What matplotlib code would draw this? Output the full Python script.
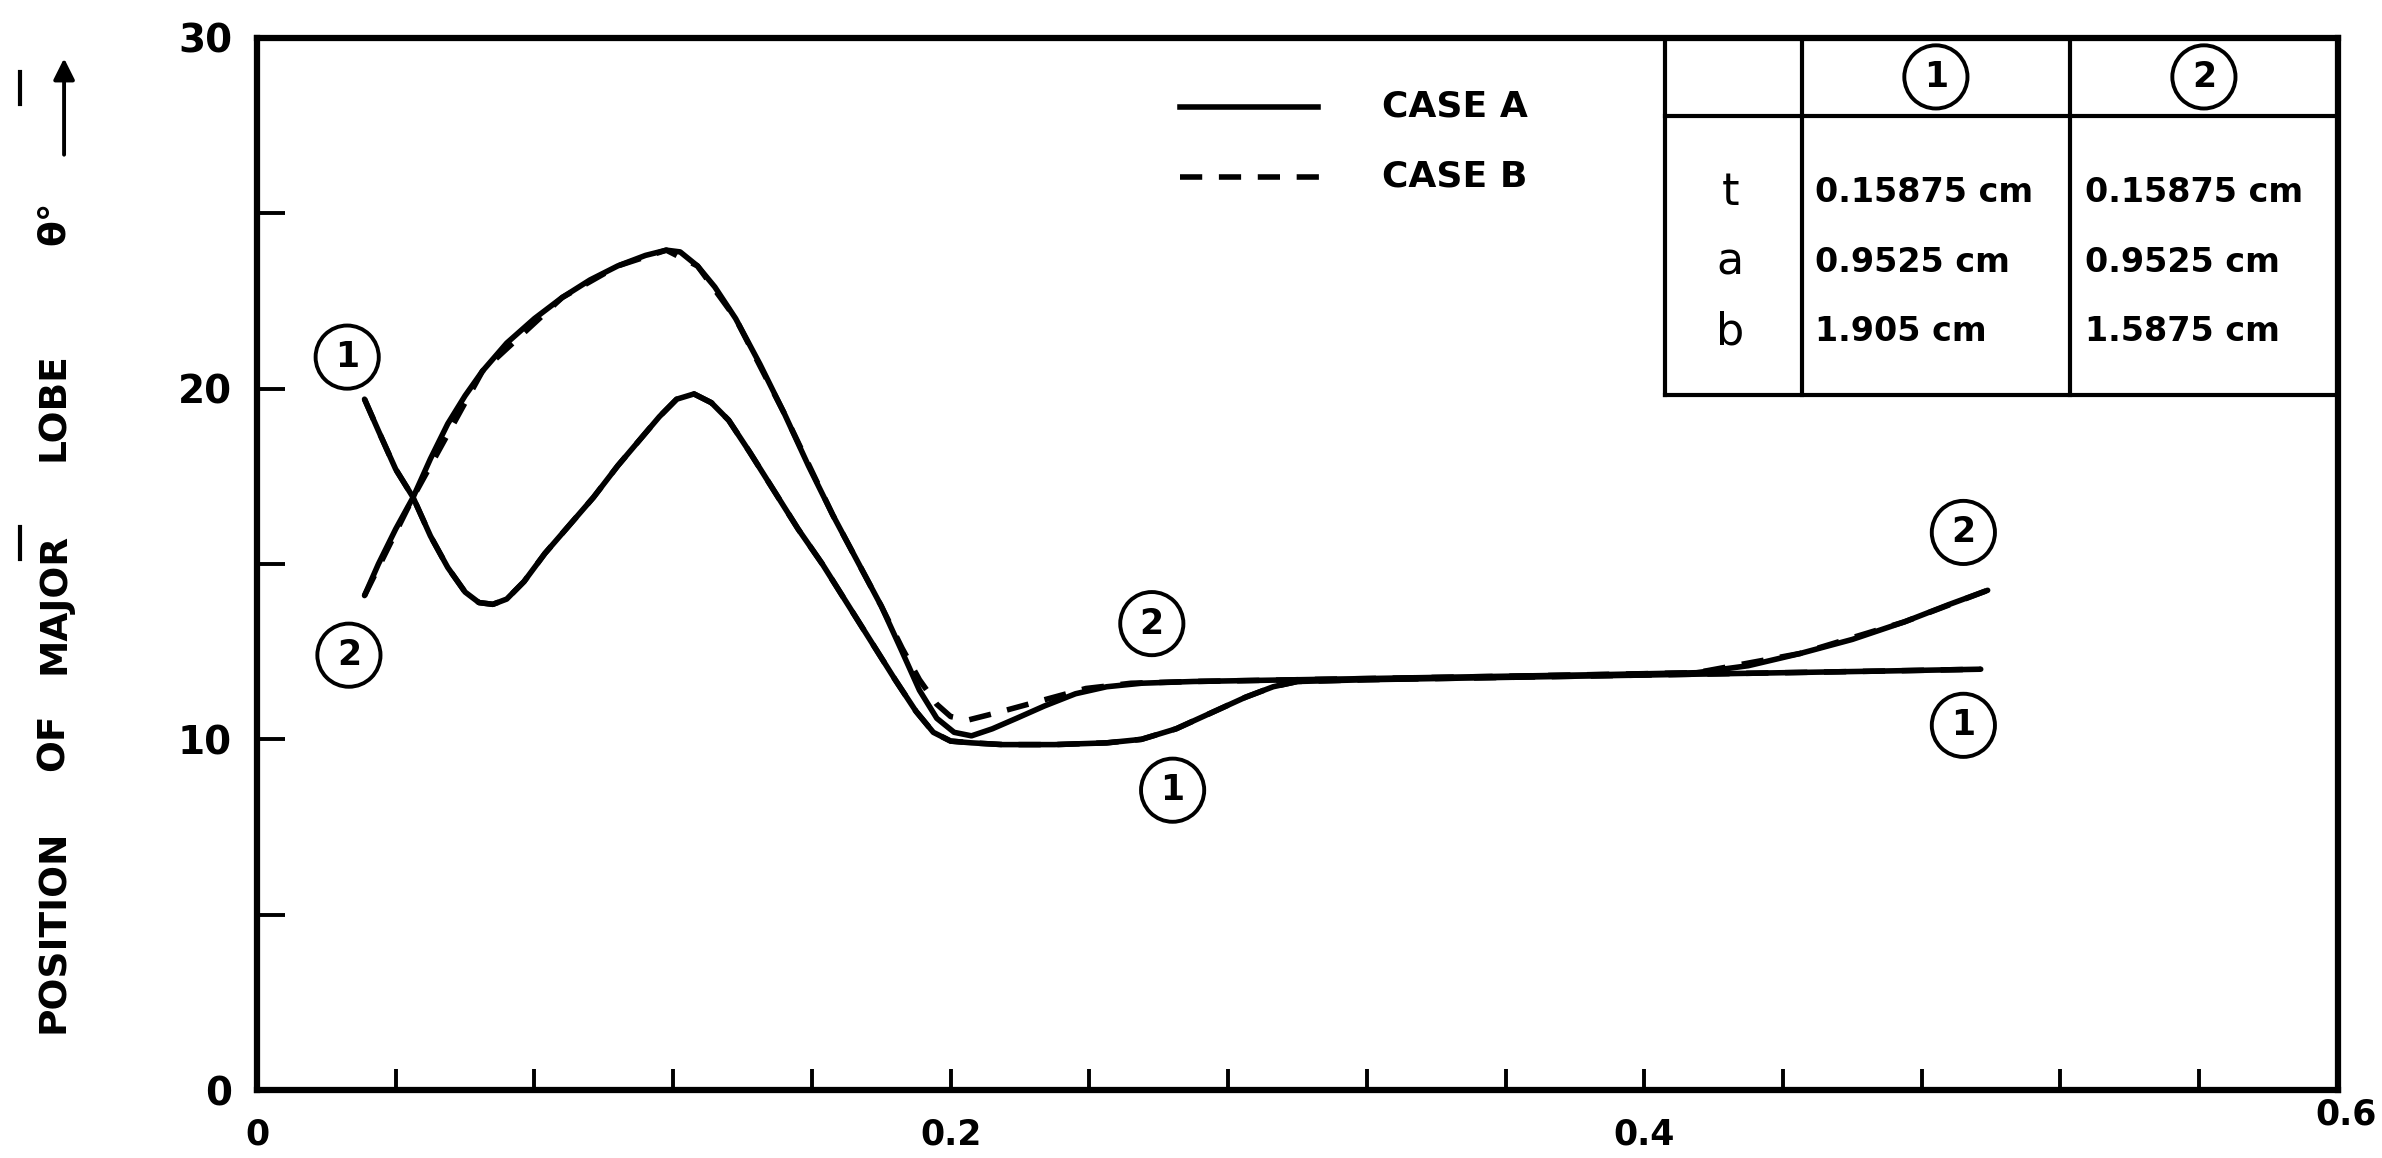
import numpy as np
import matplotlib.pyplot as plt
from matplotlib.lines import Line2D
from matplotlib.patches import FancyArrowPatch

# strip 1, case A
x_1a = [0.031, 0.035, 0.040, 0.045, 0.050, 0.055, 0.060, 0.064, 0.068, 0.072,
        0.077, 0.083, 0.090, 0.097, 0.104, 0.110, 0.116, 0.121, 0.126, 0.131,
        0.136, 0.142, 0.149, 0.156, 0.163, 0.170, 0.177, 0.184, 0.190, 0.195,
        0.200, 0.206, 0.215, 0.230, 0.245, 0.255, 0.265, 0.275, 0.285, 0.293,
        0.300, 0.320, 0.350, 0.380, 0.410, 0.440, 0.470, 0.497]
th_1a = [19.7, 18.8, 17.7, 16.9, 15.8, 14.9, 14.2, 13.9, 13.85, 14.0,
         14.5, 15.3, 16.1, 16.9, 17.8, 18.5, 19.2, 19.7, 19.85, 19.6,
         19.1, 18.2, 17.1, 16.0, 15.0, 13.9, 12.8, 11.7, 10.8, 10.2,
         9.95, 9.9, 9.85, 9.85, 9.9, 10.0, 10.3, 10.75, 11.2, 11.5,
         11.65, 11.7, 11.75, 11.8, 11.85, 11.9, 11.95, 12.0]

# strip 2, case A
x_2a = [0.031, 0.035, 0.040, 0.045, 0.050, 0.055, 0.060, 0.065, 0.072, 0.080,
        0.088, 0.096, 0.104, 0.112, 0.118, 0.122, 0.127, 0.132, 0.138, 0.145,
        0.152, 0.159, 0.166, 0.173, 0.180, 0.186, 0.191, 0.196, 0.201, 0.206,
        0.212, 0.219, 0.227, 0.236, 0.245, 0.255, 0.270, 0.300, 0.330, 0.360,
        0.390, 0.415, 0.430, 0.445, 0.460, 0.475, 0.488, 0.499]
th_2a = [14.1, 15.0, 16.0, 16.9, 18.0, 19.0, 19.8, 20.5, 21.3, 22.0,
         22.6, 23.1, 23.5, 23.8, 23.95, 23.9, 23.5, 22.9, 22.0, 20.7,
         19.3, 17.8, 16.4, 15.1, 13.8, 12.5, 11.4, 10.6, 10.2, 10.1,
         10.3, 10.6, 10.95, 11.3, 11.5, 11.6, 11.65, 11.7, 11.75, 11.8,
         11.85, 11.9, 12.1, 12.45, 12.85, 13.35, 13.85, 14.25]

# case B: strip 1 coincides with case A, strip 2 departs only near the dip
x_1b = x_1a
th_1b = th_1a
x_2b = [0.031, 0.045, 0.065, 0.088, 0.104, 0.118, 0.127, 0.138, 0.152, 0.166,
        0.180, 0.186, 0.191, 0.196, 0.200, 0.205, 0.213, 0.226, 0.239, 0.252,
        0.270, 0.300, 0.360, 0.415, 0.445, 0.475, 0.499]
th_2b = [14.1, 16.9, 20.5, 22.6, 23.5, 23.95, 23.5, 22.0, 19.3, 16.4,
         13.8, 12.6, 11.7, 11.0, 10.65, 10.55, 10.75, 11.1, 11.45, 11.6,
         11.65, 11.7, 11.8, 11.9, 12.45, 13.35, 14.25]

# dimensions table
dim_rows = ['t', 'a', 'b']
strip1_dims = ['0.15875 cm', '0.9525 cm', '1.905 cm']
strip2_dims = ['0.15875 cm', '0.9525 cm', '1.5875 cm']

y_ticks = [0, 5, 10, 15, 20, 25, 30]
y_ticklabels = ['0', '', '10', '', '20', '', '30']
x_ticks = np.linspace(0, 0.6, 16)
x_labelled = {0.0: '0', 0.2: '0.2', 0.4: '0.4'}

ylabel_words = ['POSITION', 'OF', 'MAJOR', 'LOBE', 'θ°']
ylabel_pos = [0.196, 0.359, 0.479, 0.649, 0.808]

plt.rcParams['font.family'] = 'DejaVu Sans'
plt.rcParams['font.weight'] = 'bold'

fig = plt.figure(figsize=(23.82, 11.58), dpi=100)
ax = fig.add_axes([0.1079, 0.0587, 0.8736, 0.9085])

lw = 4.0
dash = (0, (4.0, 3.0))
ax.plot(x_1a, th_1a, color='black', lw=lw, solid_joinstyle='round', solid_capstyle='round')
ax.plot(x_2a, th_2a, color='black', lw=lw, solid_joinstyle='round', solid_capstyle='round')
ax.plot(x_1b, th_1b, color='black', lw=lw, linestyle=dash)
ax.plot(x_2b, th_2b, color='black', lw=lw, linestyle=dash)

ax.set_xlim(0, 0.6)
ax.set_ylim(0, 30)

for s in ax.spines.values():
    s.set_linewidth(4.5)

ax.set_yticks(y_ticks)
ax.set_yticklabels(y_ticklabels, fontsize=28, fontweight='bold')
ax.tick_params(axis='y', direction='in', length=20, width=2.8, pad=18)

ax.set_xticks(x_ticks)
ax.set_xticklabels([x_labelled.get(round(v, 2), '') for v in x_ticks],
                   fontsize=25, fontweight='bold')
ax.tick_params(axis='x', direction='in', length=15, width=2.8, pad=20)
fig.text(0.998, 0.052, '0.6', ha='right', va='top', fontsize=25, fontweight='bold')

# circled curve numbers
circ = dict(boxstyle='circle,pad=0.42', fc='none', ec='black', lw=2.8)
labels = [('1', 0.026, 20.9), ('2', 0.0265, 12.4), ('2', 0.258, 13.3),
          ('1', 0.264, 8.55), ('2', 0.492, 15.9), ('1', 0.492, 10.4)]
for txt, lx, ly in labels:
    ax.text(lx, ly, txt, ha='center', va='center', fontsize=25,
            fontweight='bold', bbox=circ)

# legend
tr = ax.transAxes
ax.add_line(Line2D([0.4435, 0.5099], [0.9344, 0.9344], transform=tr, color='black', lw=lw))
ax.add_line(Line2D([0.4435, 0.5109], [0.8679, 0.8679], transform=tr, color='black', lw=lw,
                   linestyle=dash))
ax.text(0.5406, 0.9344, 'CASE A', transform=tr, va='center', ha='left', fontsize=26)
ax.text(0.5406, 0.8679, 'CASE B', transform=tr, va='center', ha='left', fontsize=26)

# dimensions table in the top right corner
tl, c1, c2, tr_x = 0.6766, 0.7424, 0.8712, 1.0
t_top, t_head, t_bot = 1.0, 0.926, 0.6607
tlw = 3.0
for xs, ys in [([tl, tl], [t_top, t_bot]), ([c1, c1], [t_top, t_bot]),
               ([c2, c2], [t_top, t_bot]), ([tl, tr_x], [t_head, t_head]),
               ([tl, tr_x], [t_bot, t_bot])]:
    ax.add_line(Line2D(xs, ys, transform=tr, color='black', lw=tlw))
ax.text((c1 + c2) / 2, 0.9630, '1', transform=tr, ha='center', va='center',
        fontsize=25, bbox=circ)
ax.text((c2 + tr_x) / 2, 0.9630, '2', transform=tr, ha='center', va='center',
        fontsize=25, bbox=circ)
row_y = [0.8527, 0.7870, 0.7210]
for name, d1, d2, ry in zip(dim_rows, strip1_dims, strip2_dims, row_y):
    ax.text(0.708, ry, name, transform=tr, ha='center', va='center',
            fontsize=32, fontweight='normal')
    ax.text(0.7487, ry, d1, transform=tr, ha='left', va='center', fontsize=24)
    ax.text(0.8784, ry, d2, transform=tr, ha='left', va='center', fontsize=24)

# y axis title, one word at a time along the axis, with arrow
for word, wy in zip(ylabel_words, ylabel_pos):
    fig.text(0.0227, wy, word, rotation=90, ha='center', va='center',
             fontsize=27, fontweight='bold')
fig.add_artist(FancyArrowPatch((0.0269, 0.864), (0.0269, 0.952), transform=fig.transFigure,
                               arrowstyle='-|>', mutation_scale=32, lw=2.8, color='black'))

# stray marks at the left margin
for ym in [0.924, 0.531]:
    fig.add_artist(Line2D([0.0084, 0.0084], [ym - 0.014, ym + 0.014],
                          transform=fig.transFigure, color='black', lw=3))

fig.savefig('out.png', dpi=100)
